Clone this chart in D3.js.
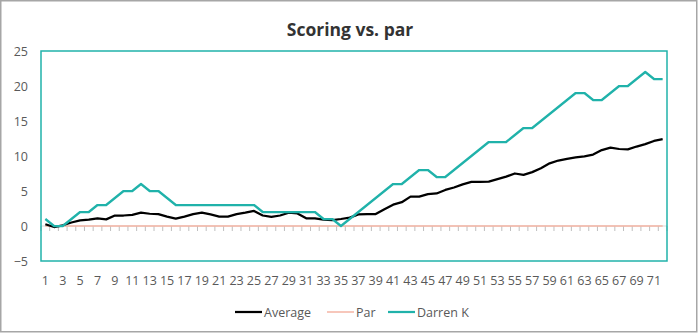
<!DOCTYPE html>
<html>
<head>
<meta charset="utf-8">
<script src="https://cdn.jsdelivr.net/npm/d3@7"></script>
<style>
  html, body { margin: 0; padding: 0; background: #fff; }
  svg { display: block; font-family: "Open Sans", "Noto Sans", sans-serif; }
</style>
</head>
<body>
<svg id="chart" width="699" height="333"></svg>
<script>
// Holes 1..72
const holes = d3.range(1, 73);

// Cumulative score relative to par after each hole
const average = [
  0.25, -0.15, 0.1, 0.5, 0.8, 0.9, 1.1, 0.95, 1.5, 1.5,
  1.6, 1.9, 1.75, 1.7, 1.35, 1.05, 1.35, 1.7, 1.9, 1.65,
  1.35, 1.35, 1.7, 1.9, 2.15, 1.5, 1.3, 1.5, 1.9, 1.8,
  1.1, 1.1, 0.9, 0.85, 1.0, 1.2, 1.65, 1.7, 1.7, 2.4,
  3.05, 3.4, 4.2, 4.2, 4.55, 4.65, 5.15, 5.5, 5.95, 6.3,
  6.3, 6.35, 6.7, 7.05, 7.5, 7.3, 7.7, 8.25, 8.95, 9.35,
  9.6, 9.8, 9.95, 10.2, 10.85, 11.2, 11.0, 10.95, 11.35, 11.7,
  12.15, 12.4
];
const par = holes.map(() => 0);
const darrenK = [
  1, 0, 0, 1, 2, 2, 3, 3, 4, 5,
  5, 6, 5, 5, 4, 3, 3, 3, 3, 3,
  3, 3, 3, 3, 3, 2, 2, 2, 2, 2,
  2, 2, 1, 1, 0, 1, 2, 3, 4, 5,
  6, 6, 7, 8, 8, 7, 7, 8, 9, 10,
  11, 12, 12, 12, 13, 14, 14, 15, 16, 17,
  18, 19, 19, 18, 18, 19, 20, 20, 21, 22,
  21, 21
];
const yTicks = [-5, 0, 5, 10, 15, 20, 25];

const series = [
  { name: "Average", values: average, color: "#000000", width: 2.25 },
  { name: "Par", values: par, color: "#f5b5a4", width: 1.5 },
  { name: "Darren K", values: darrenK, color: "#20b2aa", width: 2.25 }
];

const svg = d3.select("#chart");
const W = 699, H = 333;
const plot = { left: 41, right: 667, top: 51, bottom: 261 };

// Outer chart frame
svg.append("rect")
  .attr("x", 0.75).attr("y", 0.75)
  .attr("width", W - 3).attr("height", H - 2)
  .attr("fill", "#fff").attr("stroke", "#a6a6a6").attr("stroke-width", 1.5);

// Title
svg.append("text")
  .attr("x", 350).attr("y", 36)
  .attr("text-anchor", "middle")
  .attr("font-size", 17.5).attr("font-weight", 700)
  .attr("fill", "#333")
  .text("Scoring vs. par");

const x = d3.scaleBand().domain(holes).range([plot.left, plot.right]);
const y = d3.scaleLinear().domain([-5, 25]).range([plot.bottom, plot.top]);
const cx = h => x(h) + x.bandwidth() / 2;

// Y axis labels
const yAxis = d3.axisLeft(y).tickValues(yTicks).tickSize(0).tickPadding(13);
const gy = svg.append("g").attr("transform", `translate(${plot.left},0)`).call(yAxis);
gy.select(".domain").remove();
gy.selectAll("text").attr("font-size", 12.5).attr("fill", "#595959")
  .attr("font-family", "'Open Sans', 'Noto Sans', sans-serif");

// X axis at zero with ticks on category boundaries
const gx = svg.append("g").attr("transform", `translate(0,${y(0)})`);
gx.append("line")
  .attr("x1", plot.left).attr("x2", plot.right)
  .attr("stroke", "#d9d9d9").attr("stroke-width", 1);
gx.selectAll("line.tick")
  .data(holes.concat([holes.length + 1]))
  .join("line")
  .attr("class", "tick")
  .attr("x1", (d, i) => i < holes.length ? x(d) : plot.right)
  .attr("x2", (d, i) => i < holes.length ? x(d) : plot.right)
  .attr("y1", 0).attr("y2", 5)
  .attr("stroke", "#bfbfbf").attr("stroke-width", 1);

// Category labels along the bottom, every second hole
svg.append("g").selectAll("text")
  .data(holes.filter(h => h % 2 === 1))
  .join("text")
  .attr("x", d => cx(d)).attr("y", 285)
  .attr("text-anchor", "middle")
  .attr("font-size", 12.5).attr("fill", "#595959")
  .text(d => d);

// Series lines
const line = d3.line().x((v, i) => cx(holes[i])).y(v => y(v));
svg.append("g").selectAll("path")
  .data([series[1], series[0], series[2]])
  .join("path")
  .attr("d", s => line(s.values))
  .attr("fill", "none")
  .attr("stroke", s => s.color)
  .attr("stroke-width", s => s.width)
  .attr("stroke-linejoin", "round");

// Plot area border
svg.append("rect")
  .attr("x", plot.left).attr("y", plot.top)
  .attr("width", plot.right - plot.left).attr("height", plot.bottom - plot.top)
  .attr("fill", "none").attr("stroke", "#20b2aa").attr("stroke-width", 1.5);

// Legend
const legendX = [235, 327, 388];
const lg = svg.append("g").selectAll("g").data(series).join("g")
  .attr("transform", (s, i) => `translate(${legendX[i]},312)`);
lg.append("line").attr("x1", 0).attr("x2", 27)
  .attr("stroke", s => s.color).attr("stroke-width", s => s.width);
lg.append("text").attr("x", 29).attr("y", 4.5)
  .attr("font-size", 12.5).attr("fill", "#595959")
  .text(s => s.name);
</script>
</body>
</html>
